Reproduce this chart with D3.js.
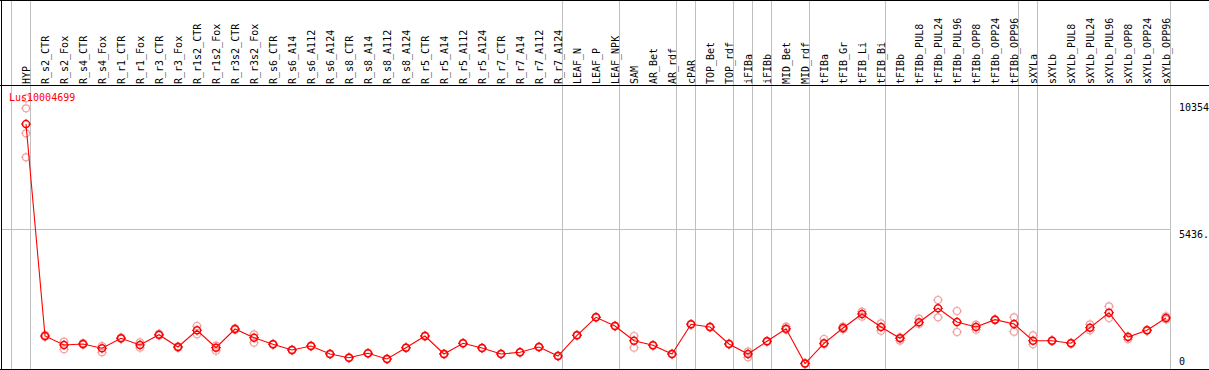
<!DOCTYPE html>
<html><head><meta charset="utf-8">
<script src="https://cdn.jsdelivr.net/npm/d3@7/dist/d3.min.js"></script>
<style>
html,body{margin:0;padding:0;background:#fff;}
svg{display:block;}
text{font-family:"DejaVu Sans Mono",monospace;font-size:10px;}
</style></head>
<body>
<script>
const categories = ["HYP","R_s2_CTR","R_s2_Fox","R_s4_CTR","R_s4_Fox","R_r1_CTR","R_r1_Fox","R_r3_CTR","R_r3_Fox","R_r1s2_CTR","R_r1s2_Fox","R_r3s2_CTR","R_r3s2_Fox","R_s6_CTR","R_s6_A14","R_s6_A112","R_s6_A124","R_s8_CTR","R_s8_A14","R_s8_A112","R_s8_A124","R_r5_CTR","R_r5_A14","R_r5_A112","R_r5_A124","R_r7_CTR","R_r7_A14","R_r7_A112","R_r7_A124","LEAF_N","LEAF_P","LEAF_NPK","SAM","AR_Bet","AR_rdf","cPAR","TOP_Bet","TOP_rdf","iFIBa","iFIBb","MID_Bet","MID_rdf","tFIBa","tFIB_Gr","tFIB_Li","tFIB_Bi","tFIBb","tFIBb_PUL8","tFIBb_PUL24","tFIBb_PUL96","tFIBb_OPP8","tFIBb_OPP24","tFIBb_OPP96","sXYLa","sXYLb","sXYLb_PUL8","sXYLb_PUL24","sXYLb_PUL96","sXYLb_OPP8","sXYLb_OPP24","sXYLb_OPP96"];
const meanValues = [9501,1280,931,970,803,1191,931,1330,853,1501,826,1551,1214,958,737,892,582,438,609,388,826,1280,582,997,814,582,648,853,504,1307,2005,1668,1097,919,582,1733,1629,970,582,1074,1563,213,997,1590,2133,1629,1191,1811,2354,1823,1629,1912,1745,1097,1097,997,1602,2183,1241,1501,1978];
const rep1 = [10500,1320,1059,1000,892,1220,1035,1360,880,1668,904,1580,1346,975,750,905,595,450,620,400,840,1295,595,1010,825,595,660,865,515,1320,2020,1680,1280,930,595,1745,1645,985,671,1090,1640,230,1163,1640,2222,1772,1230,1951,2676,2249,1718,1930,2005,1307,1115,1015,1733,2431,1260,1520,2040];
const rep2 = [8210,1250,764,940,648,1170,826,1300,820,1346,710,1520,1020,940,720,880,570,425,595,375,815,1265,570,985,800,570,635,840,490,1295,1990,1655,826,905,570,1720,1610,955,454,1060,1520,195,960,1540,2028,1485,1097,1745,2005,1435,1524,1895,1446,958,1080,980,1501,1978,1152,1480,1920];
const hypExtraReps = [10110, 9140];
const groupBreaks = [-1,0,28,31,34,35,37,38,39,41,45,52,53,60]; // vertical line after this column index
const yGridValues = [5436];
const yTickValues = [10354, 5436, 0];
const yTickLabels = ["10354", "5436.", "0"];
const geneName = "Lus10004699";

const W = 1209, H = 370;
const svg = d3.select("body").append("svg").attr("width", W).attr("height", H);

const x = d3.scalePoint().domain(categories).range([26, 1166]);
const step = x.step();
const y = d3.scaleLinear().domain([0, 10354]).range([369, 102]);

// vertical group lines
const colX = i => x(categories[0]) + i * step;
svg.append("g").selectAll("line").data(groupBreaks).join("line")
  .attr("x1", d => Math.floor(colX(d) + 4.6) + 0.5)
  .attr("x2", d => Math.floor(colX(d) + 4.6) + 0.5)
  .attr("y1", 0).attr("y2", 369)
  .attr("stroke", "#c0c0c0").attr("stroke-width", 1);

// horizontal grid
svg.append("g").selectAll("line").data(yGridValues).join("line")
  .attr("x1", 1).attr("x2", Math.floor(colX(60) + 4.6) + 0.5)
  .attr("y1", d => Math.round(y(d)) + 0.5).attr("y2", d => Math.round(y(d)) + 0.5)
  .attr("stroke", "#c0c0c0");

// borders
svg.append("line").attr("x1",0).attr("x2",W).attr("y1",0.5).attr("y2",0.5).attr("stroke","#000");
svg.append("line").attr("x1",0).attr("x2",W).attr("y1",85.5).attr("y2",85.5).attr("stroke","#000");
svg.append("line").attr("x1",0).attr("x2",W).attr("y1",369.5).attr("y2",369.5).attr("stroke","#000");
svg.append("line").attr("x1",1.5).attr("x2",1.5).attr("y1",0).attr("y2",370).attr("stroke","#000");

// column labels
svg.append("g").selectAll("text").data(categories).join("text")
  .attr("transform", d => `translate(${x(d) + 4},84) rotate(-90)`)
  .attr("text-anchor", "start")
  .attr("fill", "#000")
  .text(d => d);

// y tick labels
svg.append("g").selectAll("text").data(yTickValues).join("text")
  .attr("x", 1179)
  .attr("y", (d, i) => i === 2 ? 365 : Math.round(y(d)) + 9)
  .attr("fill", "#000")
  .text((d, i) => yTickLabels[i]);

// marker helper
const tickPath = "M0,-5V-3.8M0,3.8V5M-5,0H-3.8M3.8,0H5";
function marker(g, cx, cy, color, sw) {
  const m = g.append("g").attr("transform", `translate(${cx},${cy})`);
  m.append("circle").attr("r", 3.5).attr("fill", "none").attr("stroke", color).attr("stroke-width", sw);
  m.append("path").attr("d", tickPath).attr("stroke", color).attr("stroke-width", 1);
}

// replicates
const repG = svg.append("g");
categories.forEach((c, i) => {
  marker(repG, x(c), y(rep1[i]), "#f0a0a0", 1.2);
  marker(repG, x(c), y(rep2[i]), "#f0a0a0", 1.2);
});
hypExtraReps.forEach(v => marker(repG, x(categories[0]), y(v), "#f0a0a0", 1.2));

// mean line
svg.append("path")
  .datum(meanValues)
  .attr("d", d3.line().x((d, i) => x(categories[i])).y(d => y(d)))
  .attr("fill", "none").attr("stroke", "#ff0000").attr("stroke-width", 1.1);

// mean markers
const mG = svg.append("g");
categories.forEach((c, i) => marker(mG, x(c), y(meanValues[i]), "#ff0000", 1.5));

// gene label
svg.append("text").attr("x", 9).attr("y", 100.5).attr("fill", "#ff0000").text(geneName);
</script>
</body></html>
